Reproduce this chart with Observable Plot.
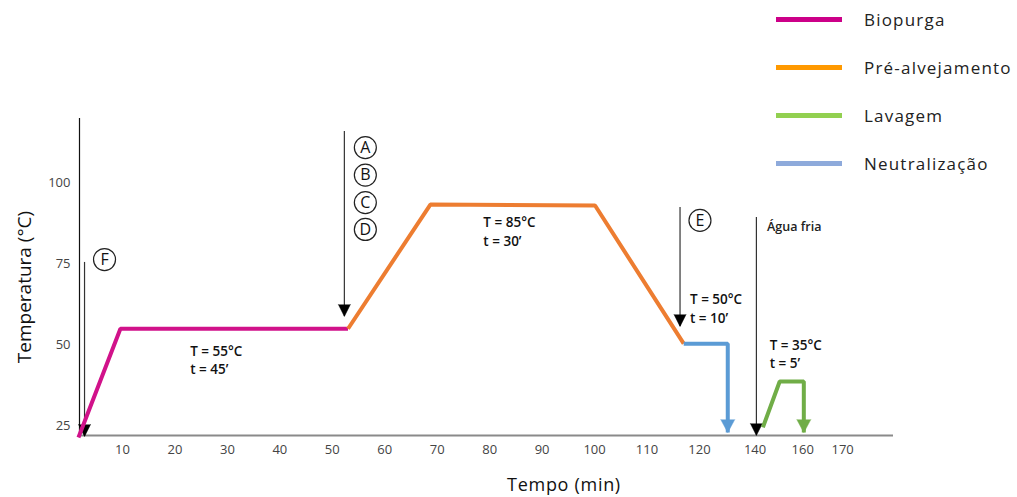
<!DOCTYPE html>
<html><head><meta charset="utf-8">
<script src="https://cdn.jsdelivr.net/npm/d3@7"></script>
<script src="https://cdn.jsdelivr.net/npm/@observablehq/plot@0.6"></script>
<style>
body{margin:0;background:#fff;}
#wrap{position:relative;width:1017px;height:497px;font-family:"Open Sans",sans-serif;}
#wrap svg{position:absolute;left:0;top:0;overflow:visible;}
.lg{position:absolute;display:flex;align-items:center;}
.lg .sw{width:66px;height:5px;margin-right:22px;}
.lg .tx{font-size:17px;color:#222;letter-spacing:1.2px;}
.ttl{position:absolute;font-size:19px;color:#111;white-space:nowrap;line-height:1;}
g[aria-label="notes"] text{letter-spacing:0.9px;}
g[aria-label="agua"] text{letter-spacing:1.3px;}
</style></head><body><div id="wrap"></div>
<script>
// axes
const xDomain = [1.8, 157];
const yDomain = [22, 120];
const xTickValues = [10,20,30,40,50,60,70,80,90,100,110,120,130.6,139.7,147.3];
const xTickLabels = ["10","20","30","40","50","60","70","80","90","100","110","120","140","160","170"];
const yTickValues = [25,50,75,100];
const xTitle = "Tempo (min)";
const yTitle = "Temperatura (°C)";

// series: [tempo, temperatura]
const biopurga = [[1.6,21.4],[9.6,55],[53,55]];
const preAlvejamento = [[53,55],[68.7,93.4],[100.1,93.1],[117,50.4]];
const neutralizacao = [[117,50.4],[125.4,50.4],[125.4,22.9]];
const lavagem = [[132.1,24.5],[135.3,38.7],[139.9,38.7],[139.9,22.9]];

// legend
const legendNames = ["Biopurga","Pré-alvejamento","Lavagem","Neutralização"];
const legendColors = ["#cc0088","#ff9900","#92d050","#8eaadb"];

// black arrows: [tempo, topo, ponta]
const blackArrows = [[2.76,75.5,21.7],[52.3,116,58.8],[116.3,92.5,55.7],[130.86,89.4,22]];
// colored arrow tips
const colorTips = [[125.4,22.9,"#5b9bd5"],[139.9,22.9,"#70ad47"]];
// circled letters
const circleLetters = ["F","A","B","C","D","E"];
const circleX = [6.57,56.3,56.3,56.3,56.3,120.1];
const circleY = [76.4,111.0,102.5,94.0,85.7,88.5];
// annotations
const notes = [
  [22.9,48.0,"T = 55°C"],[22.9,42.4,"t = 45’"],
  [78.8,87.8,"T = 85°C"],[78.8,81.8,"t = 30’"],
  [118.2,64.0,"T = 50°C"],[118.2,58.2,"t = 10’"],
  [133.4,49.8,"T = 35°C"],[133.4,44.3,"t = 5’"]
];
const aguaFria = [[132.9,86.6,"Água fria"]];

const labelMap = new Map(xTickValues.map((v,i)=>[v,xTickLabels[i]]));
const circles = circleLetters.map((l,i)=>({l, x:circleX[i], y:circleY[i]}));

const lineOpts = {x:d=>d[0], y:d=>d[1], strokeWidth:4, strokeLinejoin:"miter", strokeLinecap:"butt"};

const chart = Plot.plot({
  width:1017, height:497,
  marginLeft:79, marginRight:124, marginTop:118, marginBottom:62,
  style:{fontFamily:"Open Sans, sans-serif", background:"transparent", overflow:"visible"},
  x:{domain:xDomain},
  y:{domain:yDomain},
  marks:[
    Plot.axisY({ticks:yTickValues, tickSize:0, tickPadding:9, fontSize:13, label:null, color:"#444"}),
    Plot.axisX({ticks:xTickValues, tickFormat:d=>labelMap.get(d), tickSize:0, tickPadding:9, fontSize:13, label:null, color:"#444"}),
    Plot.ruleY([yDomain[0]], {stroke:"#8a8a8a", strokeWidth:2}),
    Plot.ruleX([xDomain[0]], {stroke:"#111", strokeWidth:1.2}),
    Plot.ruleX(blackArrows, {x:d=>d[0], y1:d=>d[1], y2:d=>d[2], stroke:"#333", strokeWidth:1.2}),
    Plot.vector(blackArrows, {x:d=>d[0], y:d=>d[2], rotate:180, length:12, r:6, shape:"spike", anchor:"end", fill:"#000", stroke:"#000", strokeWidth:0.5}),
    Plot.line(biopurga, {...lineOpts, stroke:"#d1128a"}),
    Plot.line(preAlvejamento, {...lineOpts, stroke:"#ed7d31"}),
    Plot.line(neutralizacao, {...lineOpts, stroke:"#5b9bd5"}),
    Plot.line(lavagem, {...lineOpts, stroke:"#70ad47"}),
    Plot.vector(colorTips, {x:d=>d[0], y:d=>d[1], rotate:180, length:13, r:7, shape:"spike", anchor:"end", fill:d=>d[2], stroke:d=>d[2], strokeWidth:0.5}),
    Plot.dot(circles, {x:"x", y:"y", r:11, fill:"white", stroke:"#222", strokeWidth:1.2}),
    Plot.text(circles, {x:"x", y:"y", text:"l", fontSize:16, fill:"#111"}),
    Plot.text(notes, {x:d=>d[0], y:d=>d[1], text:d=>d[2], textAnchor:"start", fontSize:13.5, fontWeight:600, fill:"#111", ariaLabel:"notes"}),
    Plot.text(aguaFria, {x:d=>d[0], y:d=>d[1], text:d=>d[2], textAnchor:"start", fontSize:12.5, fontWeight:600, fill:"#222", ariaLabel:"agua"})
  ]
});
const wrap = document.getElementById("wrap");
wrap.appendChild(chart);
legendNames.forEach((n,i)=>{
  const d = document.createElement("div");
  d.className = "lg";
  d.style.left = "776px";
  d.style.top = (7 + i*48) + "px";
  d.style.height = "24px";
  d.innerHTML = `<div class="sw" style="background:${legendColors[i]}"></div><div class="tx">${n}</div>`;
  wrap.appendChild(d);
});
const yt = document.createElement("div");
yt.className = "ttl";
yt.textContent = yTitle;
yt.style.left = "24px"; yt.style.top = "287px";
yt.style.transform = "translate(-50%,-50%) rotate(-90deg)";
wrap.appendChild(yt);
const xt = document.createElement("div");
xt.className = "ttl";
xt.textContent = xTitle;
xt.style.fontSize = "18px";
xt.style.letterSpacing = "0.7px";
xt.style.left = "564px"; xt.style.top = "484px";
xt.style.transform = "translate(-50%,-50%)";
wrap.appendChild(xt);
</script></body></html>
